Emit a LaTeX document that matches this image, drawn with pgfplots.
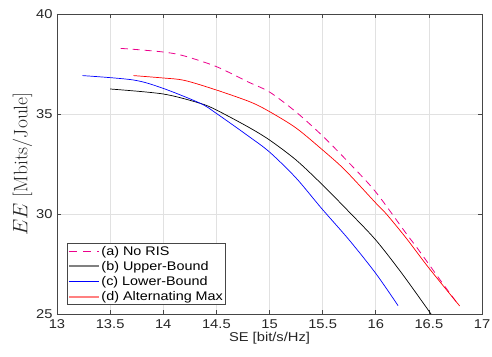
\documentclass[border=0pt]{standalone}
\usepackage{pgfplots}
\pgfplotsset{compat=1.18}
\usepackage{fontspec}
\setsansfont[FakeStretch=1.15]{Liberation Sans}
\definecolor{axgray}{RGB}{70,70,70}
\definecolor{txtgray}{RGB}{38,38,38}
\definecolor{gridgray}{RGB}{225,225,225}
\definecolor{salmon}{RGB}{255,128,128}
\definecolor{leggray}{RGB}{128,128,128}
\newcommand{\legline}[3]{%
  \pgfsetstrokecolor{#1}\pgfsetlinewidth{#2}#3%
  \pgfpathmoveto{\pgfpoint{0pt}{0pt}}\pgfpathlineto{\pgfpoint{30pt}{0pt}}\pgfusepath{stroke}}
\begin{document}
\begin{tikzpicture}
\begin{axis}[
  name=ax,
  scale only axis, width=425pt, height=300pt,
  xmin=13, xmax=17, ymin=25, ymax=40,
  xtick={13,13.5,14,14.5,15,15.5,16,16.5,17},
  ytick={25,30,35,40},
  grid=major,
  major grid style={gridgray, line width=0.6pt},
  axis line style={axgray, line width=0.7pt},
  every tick/.style={axgray, line width=0.7pt},
  major tick length=4pt,
  tick align=inside,
  tick pos=both,
  /pgf/number format/assume math mode=true,
  tick label style={font=\fontsize{12.8}{14}\selectfont\sffamily, text=txtgray},
  xticklabel style={yshift=-2pt},
  yticklabel style={xshift=-1pt},
  xlabel={SE [bit/s/Hz]},
  xlabel style={font=\fontsize{12.8}{14}\selectfont\sffamily, text=txtgray, yshift=3pt},
  ylabel={$E E$ [Mbits/Joule]},
  ylabel style={font=\fontsize{19.5}{22}\selectfont\rmfamily, text=txtgray, yshift=-3pt},
  legend cell align=left,
  legend style={at={(rel axis cs:0.0235,0.03)}, anchor=south west,
    draw=axgray, fill=white, line width=0.6pt,
    font=\fontsize{12.5}{14}\selectfont\sffamily,
    inner xsep=1pt, inner ysep=1.5pt, row sep=2.2pt,
    nodes={inner sep=1.2pt}},
]
% (a) No RIS
\addplot[magenta, line width=0.8pt, dash pattern=on 7pt off 5pt, smooth,
  legend image code/.code={\legline{magenta}{1pt}{\pgfsetdash{{8pt}{6pt}}{0pt}}}] coordinates {
(13.60,38.28) (13.80,38.20) (14.03,38.08) (14.20,37.90) (14.50,37.37)
(14.80,36.60) (15.00,36.10) (15.25,35.10) (15.50,33.90) (15.75,32.55)
(16.00,31.10) (16.29,29.00) (16.39,28.30) (16.62,26.60) (16.78,25.45)};
\addlegendentry{(a) No RIS}
% (b) Upper-Bound
\addplot[black, line width=0.7pt, smooth,
  legend image code/.code={\legline{leggray}{2pt}{\pgfsetdash{}{0pt}}}] coordinates {
(13.50,36.25) (14.00,36.00) (14.35,35.53) (14.50,35.20) (14.80,34.35)
(15.00,33.70) (15.25,32.70) (15.50,31.45) (15.75,30.10) (16.00,28.70)
(16.25,27.00) (16.52,25.00)};
\addlegendentry{(b) Upper-Bound}
% (c) Lower-Bound
\addplot[blue, line width=0.7pt, smooth,
  legend image code/.code={\legline{blue}{1pt}{\pgfsetdash{}{0pt}}}] coordinates {
(13.24,36.92) (13.72,36.70) (14.00,36.28) (14.35,35.53) (14.50,35.03)
(14.80,33.90) (15.00,33.10) (15.25,31.80) (15.49,30.28) (15.75,28.70)
(16.00,27.03) (16.21,25.42)};
\addlegendentry{(c) Lower-Bound}
% (d) Alternating Max
\addplot[red, line width=0.7pt, smooth,
  legend image code/.code={\legline{salmon}{2pt}{\pgfsetdash{}{0pt}}}] coordinates {
(13.72,36.92) (14.00,36.80) (14.20,36.68) (14.50,36.20) (14.82,35.60)
(15.00,35.12) (15.25,34.30) (15.50,33.20) (15.71,32.20) (16.00,30.55)
(16.10,30.00) (16.29,28.77) (16.50,27.30) (16.79,25.40)};
\addlegendentry{(d) Alternating Max}
\end{axis}
\pgfresetboundingbox
\path ([shift={(-57pt,-42pt)}]ax.south west) rectangle ([shift={(10pt,14pt)}]ax.north east);
\end{tikzpicture}
\end{document}
